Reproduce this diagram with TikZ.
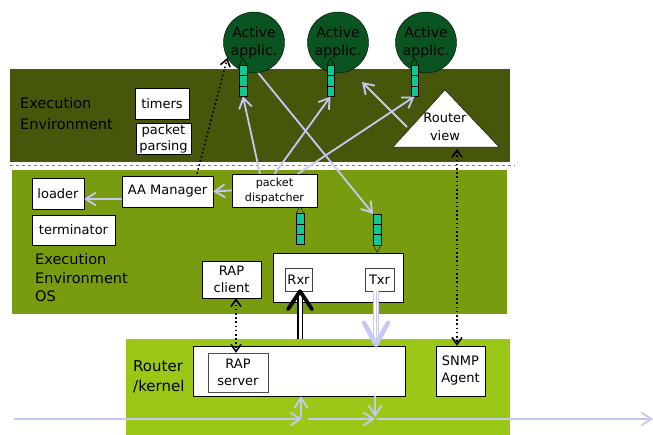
\documentclass[tikz,border=0pt]{standalone}
\usepackage{fontspec}
\setmainfont{DejaVu Sans}
\usetikzlibrary{arrows.meta}
\definecolor{eeband}{RGB}{70,86,10}
\definecolor{osband}{RGB}{120,155,16}
\definecolor{rtband}{RGB}{155,200,22}
\definecolor{aagreen}{RGB}{10,84,34}
\definecolor{qgreen}{RGB}{16,200,150}
\definecolor{lav}{RGB}{200,200,245}
\begin{document}
\begin{tikzpicture}[x=1pt,y=-1pt,
    box/.style={draw, fill=white, inner sep=0pt, align=center, font=\fontsize{13}{17}\selectfont},
    aa/.style={circle, draw, fill=aagreen, minimum size=61pt, inner sep=0pt, align=center, font=\fontsize{14}{18}\selectfont},
    queue/.style={draw, fill=qgreen, minimum width=7.5pt, minimum height=31pt, inner sep=0pt,
        path picture={\foreach \h in {10.33,20.67}
            \draw ([yshift=\h pt]path picture bounding box.south west) -- ([yshift=\h pt]path picture bounding box.south east);}},
    band/.style={font=\fontsize{14.5}{18.5}\selectfont, align=left, anchor=west, inner sep=0pt},
    lavarrow/.style={draw=lav, line width=1.8pt, -{Straight Barb[length=10pt,width=13pt]}},
    dotarrow/.style={black, line width=1.6pt, dash pattern=on 1.6pt off 2.6pt, -{Straight Barb[length=7pt,width=10pt]}},
    dotboth/.style={black, line width=1.6pt, dash pattern=on 1.6pt off 2.6pt, {Straight Barb[length=7pt,width=10pt]}-{Straight Barb[length=7pt,width=10pt]}}]
    \useasboundingbox (0,0) rectangle (653,435);
    % Draw layers
    \fill[eeband] (10,69) rectangle (510,162);
    \draw[gray, dashed, thin] (10,165) -- (515,165);
    \fill[osband] (12,170) rectangle (507,314);
    \fill[rtband] (126,339) rectangle (510,435);
    % Label layers
    \node[band, font=\fontsize{14.5}{21}\selectfont] (eelabel) at (20,114) {Execution\\Environment};
    \node[band] (oslabel) at (35,278) {Execution\\Environment\\OS};
    \node[band, font=\fontsize{15}{20}\selectfont] (rtlabel) at (133,377) {Router\\/kernel};
    % Execution environment
    \node[box, minimum width=54pt, minimum height=31pt] (timers) at (162,103.5) {timers};
    \node[box, minimum width=55pt, minimum height=31pt, font=\fontsize{13}{16}\selectfont] (parsing) at (163.5,138.5) {packet\\parsing};
    \filldraw[fill=white, draw=black] (445,90) -- (499,147) -- (393,147) -- cycle;
    \node[font=\fontsize{13}{18}\selectfont, align=center] (rview) at (445,127) {Router\\view};
    % Active applications
    \foreach \i/\x in {1/254, 2/338, 3/426}
        \node[aa] (aa\i) at (\x,42.5) {Active\\applic.};
    % Queues
    \foreach \i/\x/\y in {1/243/80.8, 2/330.5/80.8, 3/414.5/80.8, 4/300/229, 5/377/229.5}
        \node[queue] (q\i) at (\x,\y) {};
    \foreach \i in {1,...,4}
        \draw (q\i.north west) -- ([yshift=7pt]q\i.north) -- (q\i.north east);
    \draw (q5.south west) -- ([yshift=-7pt]q5.south) -- (q5.south east);
    % Execution environment OS
    \node[box, minimum width=52pt, minimum height=31pt] (loader) at (58,193.5) {loader};
    \node[box, minimum width=83pt, minimum height=30pt] (term) at (73.5,230) {terminator};
    \node[box, minimum width=91pt, minimum height=31pt] (aamgr) at (167.5,191.5) {AA Manager};
    \node[box, minimum width=85pt, minimum height=33pt, font=\fontsize{11.2}{15}\selectfont] (disp) at (274.5,190.5) {packet\\dispatcher};
    \node[box, minimum width=59pt, minimum height=37pt] (rapc) at (231.5,279.5) {RAP\\client};
    \node[box, minimum width=130pt, minimum height=49pt] (rxtx) at (338,277.5) {};
    \node[box, draw=black!75, minimum width=27pt, minimum height=23pt] (rxr) at (298.5,279.5) {Rxr};
    \node[box, draw=black!75, minimum width=29pt, minimum height=23pt] (txr) at (379.5,279.5) {Txr};
    % Router / kernel
    \node[box, minimum width=212pt, minimum height=50pt] (rtbox) at (299,371) {};
    \node[box, draw=black!70, minimum width=60pt, minimum height=39pt] (raps) at (238,372.5) {RAP\\server};
    \node[box, minimum width=49pt, minimum height=50pt] (snmp) at (460.5,371) {SNMP\\Agent};
    % Packet paths
    \draw[lavarrow] (aa1.-82) -- (q5.north west);
    \draw[lavarrow] ([xshift=-14.5pt]disp.north) -- (q1.south);
    \draw[lavarrow] (disp.north) -- (q2.south);
    \draw[lavarrow] ([xshift=23.5pt]disp.north) -- (q3.south);
    \coordinate (rvtail) at (407,127);
    \coordinate (rvtip) at (362,82);
    \draw[lavarrow] (rvtail) -- (rvtip);
    \draw[lavarrow] (disp.west) -- (aamgr.east);
    \draw[lavarrow] ([yshift=-7.5pt]aamgr.west) -- ([yshift=-5.5pt]loader.east);
    % Control paths
    \draw[dotarrow] ([xshift=29.5pt,yshift=2pt]aamgr.north) -- (aa1.210);
    \coordinate (rvbase) at (457,149);
    \draw[dotboth] (rvbase) -- (rvbase |- snmp.north);
    \draw[dotboth] ([xshift=4.5pt]rapc.south) -- ([xshift=4.5pt]rapc.south |- raps.north);
    % Receive path
    \coordinate (rxfoot) at (300,339);
    \path (rxfoot |- rxr.south) coordinate (rxtip);
    \draw[double, double distance=3pt, line width=1.4pt, shorten >=6pt] (rxfoot) -- (rxtip);
    \draw[line width=3.8pt, line cap=round, line join=round] ([shift={(-12pt,-18pt)}]rxtip) -- (rxtip) -- ([shift={(12pt,-18pt)}]rxtip);
    % Transmit path
    \path ([xshift=-3.5pt]txr.south) coordinate (txtail);
    \path ([yshift=1pt]txtail |- rtbox.north) coordinate (txtip);
    \draw[lav, line width=1pt, double=white, double distance=4pt, shorten >=5pt] (txtail) -- (txtip);
    \draw[lav, line width=1pt, shorten >=5pt] (txtail) -- (txtip);
    \draw[lav, line width=4.5pt, line cap=round, line join=round] ([shift={(-12pt,22pt)}]txtip) -- (txtip) -- ([shift={(12pt,22pt)}]txtip);
    % Link
    \coordinate (inL) at (14,419);
    \coordinate (upA) at (302,419);
    \coordinate (dnA) at (375,419);
    \coordinate (outR) at (653,419);
    \draw[lavarrow] (inL) -- (upA);
    \draw[lavarrow] ([xshift=6pt]upA) -- (dnA);
    \draw[lavarrow] ([xshift=2pt]dnA) -- (outR);
    \draw[lavarrow] ([xshift=-1pt,yshift=2pt]upA) -- ([xshift=-1pt]upA |- rtbox.south);
    \draw[lavarrow] (dnA |- rtbox.south) -- ([yshift=2pt]dnA);
\end{tikzpicture}
\end{document}
